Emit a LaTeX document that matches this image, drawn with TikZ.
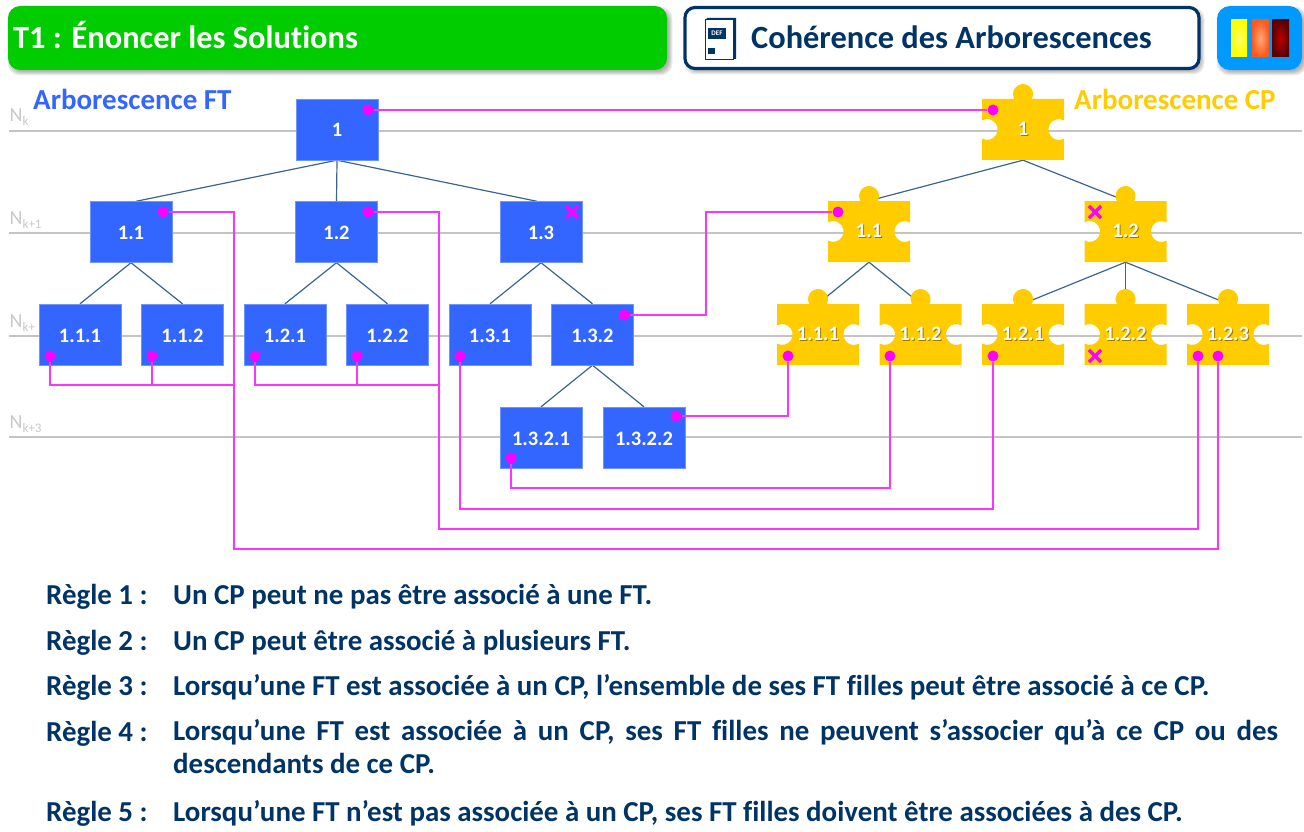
\documentclass[tikz,border=0pt]{standalone}
\usepackage{fontspec}
\setmainfont[Ligatures=NoCommon]{Carlito}
\usetikzlibrary{shapes.misc,calc}
\definecolor{ftblue}{HTML}{3366FF}
\definecolor{cpgold}{HTML}{FFCC00}
\definecolor{navy}{HTML}{003366}
\definecolor{edgeblue}{HTML}{3A6591}
\definecolor{wirepink}{HTML}{FF33FF}
\definecolor{gridgray}{HTML}{C4C4C4}
\definecolor{nkgray}{HTML}{C8C8C8}
\definecolor{cpshadow}{HTML}{9C7A00}
\definecolor{dotpink}{HTML}{FF00FF}
\definecolor{hdrgreen}{HTML}{00CC00}
\definecolor{btnblue}{HTML}{0099FF}
\pgfdeclarelayer{grid}\pgfdeclarelayer{edges}\pgfdeclarelayer{wires}
\pgfsetlayers{grid,edges,main,wires}
\tikzset{
  ftbox/.style={fill=ftblue,draw=ftblue!70!white,line width=.4pt,minimum width=82pt,minimum height=61pt,inner sep=0pt,text=white,text height=15pt,text depth=0pt,font=\fontsize{20.5}{22}\selectfont\bfseries},
  cplabel/.style={minimum width=82pt,minimum height=61pt,inner sep=0pt,text=white,font=\fontsize{20.5}{22}\selectfont\bfseries},
  treeedge/.style={draw=edgeblue,line width=1.2pt},
  wire/.style={draw=wirepink,line width=1.3pt},
  pdot/.style={circle,fill=dotpink,inner sep=0pt,minimum size=11pt},
  pcross/.style={cross out,draw=dotpink,line width=3.2pt,inner sep=0pt,minimum size=9pt},
  level/.style={draw=gridgray,line width=1.2pt},
  nk/.style={anchor=base west,inner sep=0pt,text=nkgray,font=\fontsize{20}{22}\selectfont},
  rule/.style={anchor=base west,inner sep=0pt,text=navy,font=\fontsize{28.9}{33}\selectfont\bfseries},
  heading/.style={anchor=base west,inner sep=0pt,font=\fontsize{32.4}{36}\selectfont\bfseries},
  treetitle/.style={anchor=base west,inner sep=0pt,font=\fontsize{29}{32}\selectfont\bfseries},
}
\newcommand{\softshadow}[5]{% corner radius, x0,y0,x1,y1
  \foreach \i in {0,1,2,3,4}
    \fill[rounded corners=#1pt,fill=black,opacity=.07]
      (#2+3.5-\i,#3+4.5-\i) rectangle (#4+1.5+\i,#5+1.5+\i);
}
\newcommand{\cppiece}[4]{%
  \fill[cpgold] (#2-41,#3-30.5) -- (#2-8.66,#3-30.5)
    arc[start angle=150,end angle=390,radius=10]
    -- (#2+41,#3-30.5) -- (#2+41,#3-9)
    arc[start angle=300,end angle=60,radius=10.4]
    -- (#2+41,#3+30.5) -- (#2-41,#3+30.5) -- (#2-41,#3+9)
    arc[start angle=120,end angle=-120,radius=10.4]
    -- cycle;
  \node[cplabel] (#1) at (#2,#3) {\rlap{\raisebox{-1pt}{\hspace{1pt}\textcolor{cpshadow}{#4}}}#4};
}
\begin{document}
\begin{tikzpicture}[x=1pt,y=1pt,yscale=-1]
\useasboundingbox (0,0) rectangle (1304,832);

% header
\softshadow{12}{8}{6}{667}{70}
\fill[rounded corners=12pt,fill=hdrgreen] (8,6) rectangle (667,70);
\node[heading,text=white] (hdrtitle) at (13,48.5) {T1 : Énoncer les Solutions};
\softshadow{11}{685}{7}{1199}{69}
\draw[rounded corners=10pt,fill=white,draw=navy,line width=3.2pt] (685,7.5) rectangle (1199,68.5);
\node[heading,text=navy] (hdrsub) at (751,48.5) {Cohérence des Arborescences};
% icon
\fill[navy] (708,18) -- (736,18) -- (736,59) -- (733,59) -- (733,21) -- (708,21) -- cycle;
\draw[navy,line width=1pt,fill=white] (705.5,20) rectangle (733,59.5);
\draw[navy,line width=.8pt] (705.5,20) -- (708,18);
\node[fill=navy,text=white,inner sep=0pt,minimum width=18pt,minimum height=11pt,font=\fontsize{7}{8}\selectfont\bfseries] (icondef) at (717,33.5) {DEF};
\fill[navy] (708,48) rectangle (715,54);
% colour button
\softshadow{13}{1217}{6}{1302}{70}
\fill[rounded corners=13pt,fill=btnblue] (1217,6) rectangle (1302,70);
\shade[inner color=yellow!60!white,outer color=yellow] (1231,20) rectangle (1247,57);
\shade[inner color={rgb,255:red,255;green,170;blue,120},outer color={rgb,255:red,255;green,90;blue,30}] (1252,20) rectangle (1268.5,57);
\shade[inner color={rgb,255:red,190;green,0;blue,0},outer color={rgb,255:red,90;green,0;blue,0}] (1272,20) rectangle (1289,57);

% tree titles
\node[treetitle,text=ftblue] (ftitle) at (33,109.5) {Arborescence FT};
\node[treetitle,text=cpgold] (cptitle) at (1074,109.5) {Arborescence CP};

% level lines
\begin{pgfonlayer}{grid}
\coordinate (l0a) at (9,131); \coordinate (l0b) at (1302,131);
\coordinate (l1a) at (9,233); \coordinate (l1b) at (1302,233);
\coordinate (l2a) at (9,336); \coordinate (l2b) at (1302,336);
\coordinate (l3a) at (9,437); \coordinate (l3b) at (1302,437);
\draw[level] (l0a) -- (l0b);
\draw[level] (l1a) -- (l1b);
\draw[level] (l2a) -- (l2b);
\draw[level] (l3a) -- (l3b);
\node[nk] (n0) at (9.5,122) {N\raisebox{-4pt}{\fontsize{13}{14}\selectfont k}};
\node[nk] (n1) at (9.5,224) {N\raisebox{-4pt}{\fontsize{13}{14}\selectfont k+1}};
\node[nk] (n2) at (9.5,327) {N\raisebox{-4pt}{\fontsize{13}{14}\selectfont k+}};
\node[nk] (n3) at (9.5,428) {N\raisebox{-4pt}{\fontsize{13}{14}\selectfont k+3}};
\end{pgfonlayer}

% FT boxes
\node[ftbox] (f1) at (337,129.5) {1};
\node[ftbox] (f11) at (131,232) {1.1};
\node[ftbox] (f12) at (336.5,232) {1.2};
\node[ftbox] (f13) at (541,232) {1.3};
\node[ftbox] (f111) at (80,334.5) {1.1.1};
\node[ftbox] (f112) at (182.5,334.5) {1.1.2};
\node[ftbox] (f121) at (285,334.5) {1.2.1};
\node[ftbox] (f122) at (387.5,334.5) {1.2.2};
\node[ftbox] (f131) at (490,334.5) {1.3.1};
\node[ftbox] (f132) at (592.5,334.5) {1.3.2};
\node[ftbox] (f1321) at (541,437.5) {1.3.2.1};
\node[ftbox] (f1322) at (644,437.5) {1.3.2.2};

% CP pieces
\cppiece{c1}{1023}{129.5}{1}
\cppiece{c11}{869}{231.5}{1.1}
\cppiece{c12}{1125.5}{231.5}{1.2}
\cppiece{c111}{818}{334.5}{1.1.1}
\cppiece{c112}{920.5}{334.5}{1.1.2}
\cppiece{c121}{1023}{334.5}{1.2.1}
\cppiece{c122}{1125.5}{334.5}{1.2.2}
\cppiece{c123}{1228}{334.5}{1.2.3}

% tree edges
\begin{pgfonlayer}{edges}
\foreach \p/\c in {f1/f12,f11/f111,f11/f112,f12/f121,f12/f122,f13/f131,f13/f132,f132/f1321,f132/f1322,c1/c11,c1/c12,c11/c111,c11/c112,c12/c121,c12/c122,c12/c123}
  \draw[treeedge] (\p.south) -- (\c.north);
\draw[treeedge] (f1.south) -- ($(f11.north)+(5,0)$);
\draw[treeedge] (f1.south) -- ($(f13.north)+(-4,0)$);
\end{pgfonlayer}

% association wires
\begin{pgfonlayer}{wires}
\node[pdot] (d1) at (368,110) {};
\node[pdot] (d11) at (163,212) {};
\node[pdot] (d12) at (368,212) {};
\node[pdot] (d111) at (50,356) {};
\node[pdot] (d112) at (152,356) {};
\node[pdot] (d121) at (255,356) {};
\node[pdot] (d122) at (357,356) {};
\node[pdot] (d131) at (460,356) {};
\node[pdot] (d132) at (624,315) {};
\node[pdot] (d1321) at (511,458) {};
\node[pdot] (d1322) at (676,416) {};
\node[pdot] (e1) at (993,110) {};
\node[pdot] (e11) at (838,212) {};
\node[pdot] (e111) at (788,356) {};
\node[pdot] (e112) at (890,356) {};
\node[pdot] (e121) at (993,356) {};
\node[pdot] (e123a) at (1198,356) {};
\node[pdot] (e123b) at (1218,356) {};
\node[pcross] (x13) at (572,212) {};
\node[pcross] (x12) at (1095,212) {};
\node[pcross] (x122) at (1095,356) {};
\coordinate (ra) at (234,549);
\coordinate (rb) at (439,529);
\coordinate (rc) at (706,263);
\coordinate (rd) at (700,488);
\coordinate (re) at (700,509);
\coordinate (ja) at (234,385);
\coordinate (jb) at (152,385);
\coordinate (jc) at (439,385);
\coordinate (jd) at (357,385);
\draw[wire] (d1) -- (e1);
\draw[wire] (d11) -| (ra) -| (e123b);
\draw[wire] (d12) -| (rb) -| (e123a);
\draw[wire] (d111) |- (ja);
\draw[wire] (d112) -- (jb);
\draw[wire] (d121) |- (jc);
\draw[wire] (d122) -- (jd);
\draw[wire] (d131) |- (re) -| (e121);
\draw[wire] (d132) -| (rc) |- (e11);
\draw[wire] (d1321) |- (rd) -| (e112);
\draw[wire] (d1322) -| (e111);
\end{pgfonlayer}

% rules
\node[rule] (r1l) at (46,604.5) {Règle 1 :};
\node[rule] (r1t) at (173,604.5) {Un CP peut ne pas être associé à une FT.};
\node[rule] (r2l) at (46,650.5) {Règle 2 :};
\node[rule] (r2t) at (173,650.5) {Un CP peut être associé à plusieurs FT.};
\node[rule] (r3l) at (46,695.5) {Règle 3 :};
\node[rule] (r3t) at (173,695.5) {Lorsqu’une FT est associée à un CP, l’ensemble de ses FT filles peut être associé à ce CP.};
\node[rule] (r4l) at (46,741.5) {Règle 4 :};
\node[rule,anchor=north west,text width=1105pt,align=justify] (r4t) at (173,719.5) {Lorsqu’une FT est associée à un CP, ses FT filles ne peuvent s’associer qu’à ce CP ou des\linebreak descendants de ce CP.};
\node[rule] (r5l) at (46,821.5) {Règle 5 :};
\node[rule] (r5t) at (173,821.5) {Lorsqu’une FT n’est pas associée à un CP, ses FT filles doivent être associées à des CP.};
\end{tikzpicture}
\end{document}
